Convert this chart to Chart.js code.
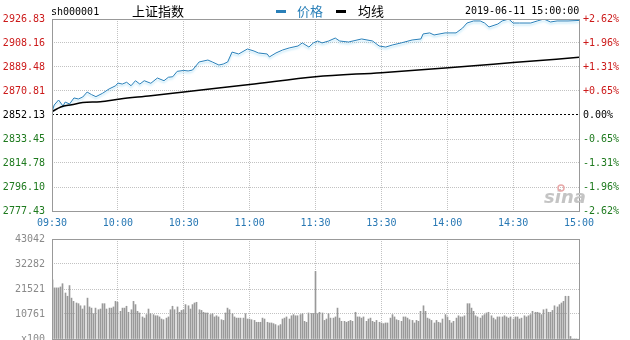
<!DOCTYPE html>
<html>
<head>
<meta charset="utf-8">
<script src="https://cdn.jsdelivr.net/npm/chart.js@4.4.1/dist/chart.umd.min.js"></script>
<style>
  body { margin: 0; background: #fff; width: 630px; height: 340px; overflow: hidden; position: relative; }
  canvas { position: absolute; left: 0; }
  #priceChart { top: 0; }
  #volChart { top: 232px; }
  .lbl { position: absolute; white-space: nowrap; }
  .mono { font: 10px "DejaVu Sans Mono", monospace; line-height: 10px; }
  .cjk { font: 13px "Noto Sans CJK SC", sans-serif; line-height: 13px; }
  .dash { position: absolute; height: 3px; }
</style>
</head>
<body>
<canvas id="priceChart" width="630" height="232"></canvas>
<canvas id="volChart" width="630" height="108"></canvas>
<div class="lbl mono" style="left:51px;top:7px;color:#000">sh000001</div>
<div class="lbl cjk" style="left:132px;top:4px;color:#000">上证指数</div>
<div class="dash" style="left:276px;top:10px;width:10px;background:#2a80b9"></div>
<div class="lbl cjk" style="left:297px;top:4px;color:#2a80b9">价格</div>
<div class="dash" style="left:336px;top:10px;width:10px;background:#000"></div>
<div class="lbl cjk" style="left:358px;top:4px;color:#000">均线</div>
<div class="lbl mono" style="left:465px;top:6px;color:#000">2019-06-11 15:00:00</div>
<script>
// previous close and axis ticks
const prevClose = 2852.13;
const priceTicks = [2777.43, 2796.10, 2814.78, 2833.45, 2852.13, 2870.81, 2889.48, 2908.16, 2926.83];
const timeTicks = [0, 30, 60, 90, 120, 150, 180, 210, 240];
const timeLabels = ['09:30', '10:00', '10:30', '11:00', '11:30', '13:30', '14:00', '14:30', '15:00'];
const volTicks = [0, 10761, 21521, 32282, 43042];

// price readings (minute index from 09:30, value)
const priceMinute = [0, 1, 3, 5, 6, 8, 10, 12, 14, 16, 18, 20, 23, 26, 29, 30, 32, 34, 36, 38,
  40, 42, 45, 48, 51, 53, 55, 57, 60, 62, 64, 67, 71, 73, 76, 78, 80, 82, 85, 89,
  92, 94, 98, 99, 102, 105, 108, 112, 114, 117, 119, 121, 123, 126, 129, 131, 135, 141, 146, 149,
  152, 155, 159, 164, 168, 169, 172, 174, 179, 184, 187, 189, 192, 195, 197, 199, 203, 205, 208, 210,
  213, 218, 221, 224, 227, 230, 235, 240];
const price = [2854.7, 2859.9, 2863.8, 2859.1, 2862.2, 2860.7, 2865.4, 2864.6, 2866.1, 2870.0,
  2868.0, 2866.4, 2869.0, 2872.4, 2874.9, 2877.0, 2876.2, 2877.6, 2874.9, 2878.8,
  2876.2, 2878.8, 2876.8, 2880.9, 2878.8, 2881.5, 2881.9, 2886.1, 2886.8, 2886.4,
  2887.1, 2893.4, 2894.9, 2893.4, 2891.0, 2891.8, 2893.4, 2901.1, 2899.6, 2903.5,
  2901.9, 2900.4, 2899.6, 2897.3, 2900.4, 2902.7, 2904.3, 2905.8, 2908.2, 2905.0,
  2908.2, 2909.7, 2908.2, 2909.7, 2912.0, 2909.7, 2908.9, 2911.3, 2909.7, 2905.8,
  2905.0, 2906.6, 2908.2, 2910.5, 2911.3, 2915.2, 2916.0, 2914.4, 2916.0, 2916.0,
  2919.8, 2923.7, 2925.3, 2925.3, 2923.7, 2920.6, 2922.9, 2925.3, 2926.8, 2923.7,
  2923.7, 2923.7, 2925.3, 2926.8, 2924.5, 2925.3, 2925.3, 2925.7];

// average line readings
const avgMinute = [0, 4, 9, 14, 22, 31, 45, 61, 90, 120, 150, 179, 210, 240];
const avgPrice = [2854.7, 2858.4, 2860.1, 2861.8, 2862.5, 2864.6, 2867.1, 2870.3, 2875.8, 2881.9, 2885.1, 2888.7, 2892.9, 2897.0];

// volume per minute (x100)
const volume = [
  25500, 22000, 22000, 22000, 22400, 23800, 19800, 18400, 23000, 17600,
  16200, 15500, 15200, 14300, 12900, 14300, 17600, 13800, 13300, 10900,
  13300, 12600, 12900, 15200, 15200, 12900, 13300, 13300, 13800, 16200,
  15800, 11900, 13300, 13300, 14100, 11500, 12600, 16200, 14800, 11900,
  11200, 9500, 9000, 10500, 12900, 10900, 10500, 10000, 10000, 9500,
  8600, 8300, 9000, 9500, 12600, 14100, 12600, 13800, 11500, 12300,
  12600, 14800, 14300, 12900, 14800, 15500, 15800, 12600, 12300, 11500,
  11200, 11200, 10500, 10900, 9500, 10000, 9500, 8300, 8000, 11200,
  13300, 12600, 10900, 9500, 9000, 9000, 9000, 9000, 10900, 8600,
  8600, 8300, 8000, 7200, 7200, 7200, 9000, 8600, 7200, 6900,
  6900, 6600, 6200, 5700, 6200, 8600, 9000, 9500, 8600, 10000,
  10500, 10000, 10000, 10500, 10900, 7600, 7200, 11200, 11000, 11000,
  29100,
  10900, 11500, 11200, 8000, 8600, 10900, 9000, 9000, 9500, 13300,
  9000, 7600, 7600, 7200, 7600, 8000, 7600, 11500, 9500, 9500,
  9000, 9500, 7600, 8600, 9000, 7600, 7200, 8000, 7200, 6900,
  6600, 6900, 6900, 9000, 10500, 9500, 8300, 8000, 7600, 9500,
  9500, 9000, 8300, 8000, 6900, 8000, 7600, 11900, 14300, 11900,
  9000, 8600, 8000, 6900, 8000, 7200, 6900, 8600, 10500, 9500,
  8000, 6900, 7600, 9000, 10000, 9500, 9500, 10000, 15200, 15200,
  13300, 11900, 10000, 9500, 9000, 10000, 10500, 11200, 11500, 10000,
  9000, 8300, 9500, 9500, 9500, 10000, 9500, 9000, 9500, 8600, 9500,
  9500, 8600, 9000, 10000, 9500, 10000, 10500, 11900, 11500, 11500,
  11200, 10500, 12600, 12900, 11500, 11500, 12300, 14300, 13800, 14800,
  15500, 16200, 18400, 18400, 1100, 0, 0, 0, 0
];

const monoFont = { family: '"DejaVu Sans Mono", monospace', size: 10 };
const gridGray = '#c2c2c2';

function pctLabel(v) {
  const p = (v - prevClose) / prevClose * 100;
  if (Math.abs(p) < 0.005) return '0.00%';
  return (p > 0 ? '+' : '') + p.toFixed(2) + '%';
}
function sideColor(v) {
  if (Math.abs(v - prevClose) < 0.01) return '#000';
  return v > prevClose ? '#cc1a1a' : '#1e7a1e';
}
function fixWidth(w) {
  return s => { s.width = w; s.paddingTop = 0; s.paddingBottom = 0; };
}

const frame = {
  id: 'frame',
  afterDraw(chart, args, opts) {
    const { ctx, chartArea: a } = chart;
    ctx.save();
    ctx.strokeStyle = '#999';
    ctx.lineWidth = 1;
    ctx.strokeRect(Math.round(a.left) + 0.5, Math.round(a.top) + 0.5,
      Math.round(a.right - a.left), Math.round(a.bottom - a.top));
    if (opts.logo) {
      ctx.font = 'italic bold 18px "DejaVu Sans", sans-serif';
      ctx.fillStyle = '#c4c4c4';
      ctx.fillText('sina', 544, 203);
      ctx.strokeStyle = '#e8a8a8';
      ctx.lineWidth = 1.5;
      ctx.beginPath();
      ctx.arc(561, 188, 3, 0, Math.PI * 2);
      ctx.stroke();
    }
    ctx.restore();
  }
};

// soft halo under the price line, like the reference
const halo = {
  id: 'halo',
  beforeDatasetDraw(chart, args) {
    if (args.index !== 1) return;
    const ctx = chart.ctx;
    ctx.save();
    ctx.shadowColor = 'rgba(110, 200, 240, 0.55)';
    ctx.shadowOffsetY = 2;
    ctx.shadowBlur = 2;
  },
  afterDatasetDraw(chart, args) {
    if (args.index !== 1) return;
    chart.ctx.restore();
  }
};

// keep 1px volume bars on whole pixels so they stay crisp
const snapBars = {
  id: 'snapBars',
  beforeDatasetsDraw(chart) {
    chart.getDatasetMeta(0).data.forEach(el => { el.x = Math.floor(el.x) + 0.5; });
  }
};

new Chart(document.getElementById('priceChart'), {
  type: 'line',
  data: {
    datasets: [
      {
        label: '均线',
        data: avgMinute.map((m, i) => ({ x: m, y: avgPrice[i] })),
        borderColor: '#000',
        borderWidth: 1.5,
        pointRadius: 0,
        cubicInterpolationMode: 'monotone'
      },
      {
        label: '价格',
        data: priceMinute.map((m, i) => ({ x: m, y: price[i] })),
        borderColor: '#2a80b9',
        borderWidth: 1,
        pointRadius: 0,
        tension: 0
      }
    ]
  },
  plugins: [frame, halo],
  options: {
    responsive: false,
    animation: false,
    layout: { padding: { top: 19, left: 0, right: 0, bottom: 0 } },
    plugins: { legend: { display: false }, tooltip: { enabled: false }, frame: { logo: true } },
    scales: {
      x: {
        type: 'linear', min: 0, max: 240,
        afterBuildTicks: s => { s.ticks = timeTicks.map(v => ({ value: v })); },
        afterFit: s => { s.height = 21; },
        ticks: {
          autoSkip: false, maxRotation: 0, padding: 6,
          color: '#2878b4', font: monoFont,
          callback: v => timeLabels[timeTicks.indexOf(v)]
        },
        grid: { color: gridGray, tickLength: 0 },
        border: { display: false, dash: [1, 1] }
      },
      y: {
        position: 'left', min: priceTicks[0], max: priceTicks[priceTicks.length - 1],
        afterBuildTicks: s => { s.ticks = priceTicks.map(v => ({ value: v })); },
        afterFit: fixWidth(52),
        ticks: {
          padding: 7, font: monoFont,
          color: c => sideColor(c.tick.value),
          callback: v => v.toFixed(2)
        },
        grid: {
          tickLength: 0,
          color: c => (c.tick && Math.abs(c.tick.value - prevClose) < 0.01) ? '#000' : gridGray
        },
        border: {
          display: false,
          dash: c => (c.tick && Math.abs(c.tick.value - prevClose) < 0.01) ? [2, 2] : [1, 1]
        }
      },
      yr: {
        position: 'right', min: priceTicks[0], max: priceTicks[priceTicks.length - 1],
        afterBuildTicks: s => { s.ticks = priceTicks.map(v => ({ value: v })); },
        afterFit: fixWidth(51),
        ticks: {
          padding: 4, font: monoFont,
          color: c => sideColor(c.tick.value),
          callback: v => pctLabel(v)
        },
        grid: { drawOnChartArea: false, tickLength: 0 },
        border: { display: false }
      }
    }
  }
});

new Chart(document.getElementById('volChart'), {
  type: 'bar',
  data: {
    datasets: [{
      label: '成交量',
      data: volume.map((v, i) => ({ x: i, y: v })),
      backgroundColor: '#999',
      barThickness: 1
    }]
  },
  plugins: [frame, snapBars],
  options: {
    responsive: false,
    animation: false,
    layout: { padding: { top: 7, left: 0, right: 51, bottom: 0 } },
    plugins: { legend: { display: false }, tooltip: { enabled: false }, frame: { logo: false } },
    scales: {
      x: {
        type: 'linear', min: 0, max: 240, offset: false,
        afterBuildTicks: s => { s.ticks = timeTicks.map(v => ({ value: v })); },
        afterFit: s => { s.height = 1; },
        ticks: { display: false },
        grid: { color: gridGray, tickLength: 0, offset: false },
        border: { display: false, dash: [1, 1] }
      },
      y: {
        position: 'left', min: 0, max: volTicks[volTicks.length - 1],
        afterBuildTicks: s => { s.ticks = volTicks.map(v => ({ value: v })); },
        afterFit: fixWidth(52),
        ticks: {
          padding: 7, font: monoFont, color: '#8a8a8a',
          callback: v => v === 0 ? 'x100' : String(v)
        },
        grid: { color: gridGray, tickLength: 0 },
        border: { display: false, dash: [1, 1] }
      }
    }
  }
});
</script>
</body>
</html>
